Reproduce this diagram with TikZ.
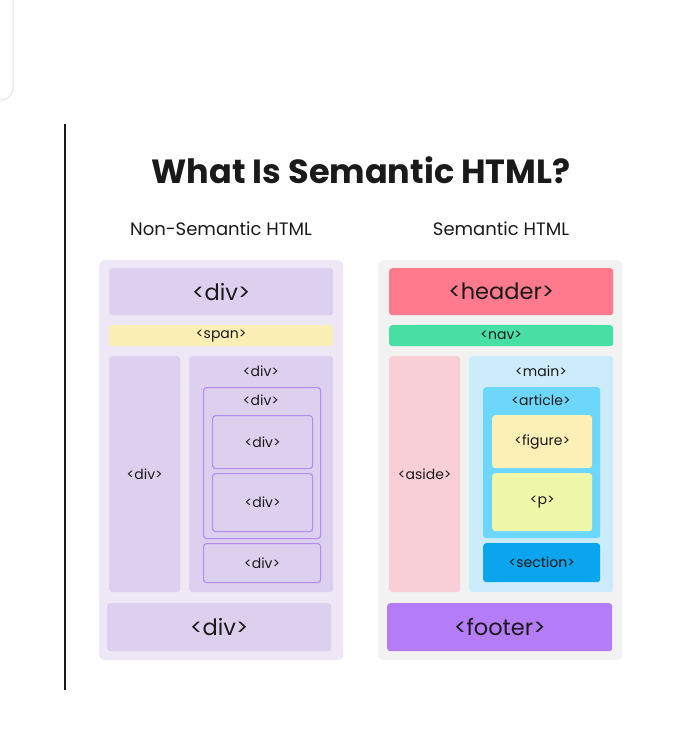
\documentclass[tikz,border=0pt]{standalone}
\usepackage{fontspec}
\setmainfont{Poppins}
\definecolor{txt}{HTML}{1A1A1A}
\definecolor{lout}{HTML}{EEE8F6}
\definecolor{ldiv}{HTML}{DDD0EE}
\definecolor{lline}{HTML}{B58CF2}
\definecolor{spanc}{HTML}{FBEFB5}
\definecolor{rout}{HTML}{F2F2F2}
\definecolor{headc}{HTML}{FF7A8C}
\definecolor{navc}{HTML}{47DFA3}
\definecolor{asidec}{HTML}{F9CFD7}
\definecolor{mainc}{HTML}{CCEBFB}
\definecolor{artc}{HTML}{6DD6FB}
\definecolor{figc}{HTML}{FDF0B6}
\definecolor{pc}{HTML}{EEF8A8}
\definecolor{secc}{HTML}{0AA5EE}
\definecolor{footc}{HTML}{B47CF6}
\tikzset{
  panel/.style={rectangle, rounded corners=6pt, inner sep=0pt, anchor=north west},
  tagbox/.style={rectangle, rounded corners=3pt, inner sep=0pt, anchor=north west, text=txt},
  big/.style={font=\fontsize{22.5}{26}\selectfont},
  small/.style={font=\fontsize{14}{16}\selectfont},
  lbl/.style={text=txt, inner sep=0pt, font=\fontsize{14}{16}\selectfont},
}
\begin{document}
\begin{tikzpicture}[x=1pt,y=-1pt]
\useasboundingbox[fill=white] (0,0) rectangle (699,749);
% top-left card corner
\draw[draw=black!10, line width=1pt, fill=white, rounded corners=12pt] (-20,-20) rectangle (13,100);
% vertical rule
\draw[line width=2pt, black!90] (65,124) coordinate (ra) -- (65,690) coordinate (rb);
% titles
\node[text=txt, font=\bfseries\fontsize{33.5}{38}\selectfont] (title) at (361,170) {What Is Semantic HTML?};
\node[text=txt, font=\fontsize{18}{21}\selectfont] (lt) at (221,229) {Non-Semantic HTML};
\node[text=txt, font=\fontsize{18}{21}\selectfont] (rt) at (501,229) {Semantic HTML};
% ---------- left panel
\node[panel, fill=lout, minimum width=244pt, minimum height=400pt] (lo) at (99,260) {};
\node[tagbox, big, fill=ldiv, minimum width=224pt, minimum height=47pt] (l1) at (109,268) {<div>};
\node[tagbox, small, fill=spanc, minimum width=224pt, minimum height=21pt] (l2) at (109,325) {<span>};
\node[tagbox, small, fill=ldiv, minimum width=71pt, minimum height=236pt] (l3) at (109,356) {<div>};
\node[tagbox, fill=ldiv, minimum width=144pt, minimum height=236pt] (l4) at (189,356) {};
\node[lbl] (l4t) at (261,371) {<div>};
\node[tagbox, fill=ldiv, draw=lline, line width=1.2pt, minimum width=117pt, minimum height=151pt] (l5) at (203,387) {};
\node[lbl] (l5t) at (261,400) {<div>};
\node[tagbox, small, fill=ldiv, draw=lline, line width=1.2pt, minimum width=100pt, minimum height=53pt] (l6) at (212,415) {<div>};
\node[tagbox, small, fill=ldiv, draw=lline, line width=1.2pt, minimum width=100pt, minimum height=58pt] (l7) at (212,473) {<div>};
\node[tagbox, small, fill=ldiv, draw=lline, line width=1.2pt, minimum width=117pt, minimum height=39pt] (l8) at (203,543) {<div>};
\node[tagbox, big, fill=ldiv, minimum width=224pt, minimum height=48pt] (l9) at (107,603) {<div>};
% ---------- right panel
\node[panel, fill=rout, minimum width=244pt, minimum height=400pt] (ro) at (378,260) {};
\node[tagbox, big, fill=headc, minimum width=224pt, minimum height=47pt] (r1) at (389,268) {<header>};
\node[tagbox, small, fill=navc, minimum width=224pt, minimum height=21pt] (r2) at (389,325) {<nav>};
\node[tagbox, small, fill=asidec, minimum width=71pt, minimum height=236pt] (r3) at (389,356) {<aside>};
\node[tagbox, fill=mainc, minimum width=144pt, minimum height=236pt] (r4) at (469,356) {};
\node[lbl] (r4t) at (541,371) {<main>};
\node[tagbox, fill=artc, minimum width=117pt, minimum height=151pt] (r5) at (483,387) {};
\node[lbl] (r5t) at (541,400) {<article>};
\node[tagbox, small, fill=figc, minimum width=100pt, minimum height=53pt] (r6) at (492,415) {<figure>};
\node[tagbox, small, fill=pc, minimum width=100pt, minimum height=58pt] (r7) at (492,473) {<p>};
\node[tagbox, small, fill=secc, minimum width=117pt, minimum height=39pt] (r8) at (483,543) {<section>};
\node[tagbox, big, fill=footc, minimum width=225pt, minimum height=48pt] (r9) at (387,603) {<footer>};
\end{tikzpicture}
\end{document}
